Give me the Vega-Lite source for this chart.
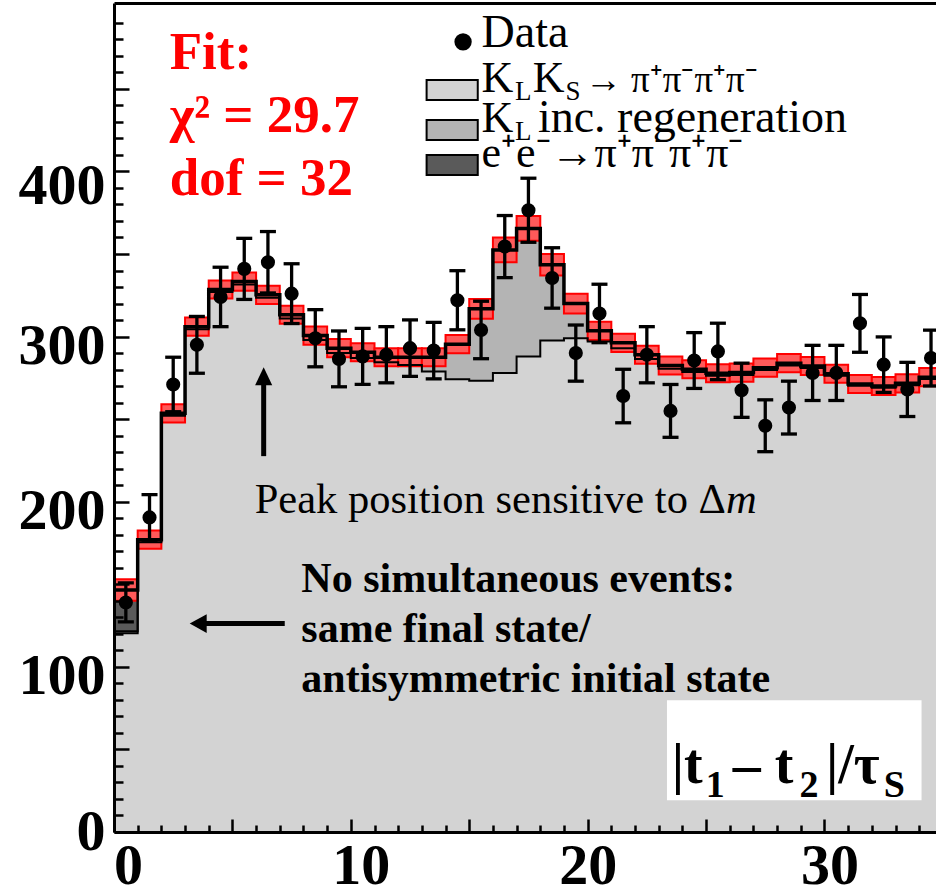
{
  "$schema": "https://vega.github.io/schema/vega-lite/v6.json",
  "width": 822,
  "height": 829,
  "autosize": {"type": "none"},
  "padding": {"left": 114, "top": 3, "right": 0, "bottom": 62},
  "background": "white",
  "config": {"view": {"stroke": null}},
  "datasets": {
    "bins": [
      {"x0":0,"x1":1,"xc":0.5,"d":139,"lo":127.2,"hi":150.8,"k":120.4,"kr":121.5,"tot":146.5,"blo":140,"bhi":153},
      {"x0":1,"x1":2,"xc":1.5,"d":190.5,"lo":176.7,"hi":204.3,"k":175.5,"kr":177,"tot":177,"blo":171.5,"bhi":182.5},
      {"x0":2,"x1":3,"xc":2.5,"d":271,"lo":254.5,"hi":287.5,"k":252,"kr":253.5,"tot":253.5,"blo":248,"bhi":259},
      {"x0":3,"x1":4,"xc":3.5,"d":295,"lo":277.8,"hi":312.2,"k":304.5,"kr":306,"tot":306,"blo":300.5,"bhi":311.5},
      {"x0":4,"x1":5,"xc":4.5,"d":324,"lo":306,"hi":342,"k":327,"kr":328.5,"tot":328.5,"blo":323,"bhi":334},
      {"x0":5,"x1":6,"xc":5.5,"d":341,"lo":322.5,"hi":359.5,"k":331.5,"kr":333.3,"tot":333.3,"blo":327.8,"bhi":338.8},
      {"x0":6,"x1":7,"xc":6.5,"d":345,"lo":326.4,"hi":363.6,"k":323.5,"kr":325.3,"tot":325.3,"blo":319.8,"bhi":330.8},
      {"x0":7,"x1":8,"xc":7.5,"d":326,"lo":307.9,"hi":344.1,"k":311,"kr":313.2,"tot":313.2,"blo":307.7,"bhi":318.7},
      {"x0":8,"x1":9,"xc":8.5,"d":299,"lo":281.7,"hi":316.3,"k":298,"kr":300.6,"tot":300.6,"blo":295.1,"bhi":306.1},
      {"x0":9,"x1":10,"xc":9.5,"d":286.5,"lo":269.6,"hi":303.4,"k":290,"kr":293,"tot":293,"blo":287.5,"bhi":298.5},
      {"x0":10,"x1":11,"xc":10.5,"d":288,"lo":271,"hi":305,"k":287,"kr":290.5,"tot":290.5,"blo":285,"bhi":296},
      {"x0":11,"x1":12,"xc":11.5,"d":289,"lo":272,"hi":306,"k":284.5,"kr":287.5,"tot":287.5,"blo":282,"bhi":293},
      {"x0":12,"x1":13,"xc":12.5,"d":293,"lo":275.9,"hi":310.1,"k":282.8,"kr":287.5,"tot":287.5,"blo":282,"bhi":293},
      {"x0":13,"x1":14,"xc":13.5,"d":291.5,"lo":274.4,"hi":308.6,"k":278.8,"kr":287.5,"tot":287.5,"blo":282,"bhi":293},
      {"x0":14,"x1":15,"xc":14.5,"d":322,"lo":304.1,"hi":339.9,"k":274.2,"kr":295.4,"tot":295.4,"blo":289.9,"bhi":300.9},
      {"x0":15,"x1":16,"xc":15.5,"d":304,"lo":286.6,"hi":321.4,"k":273.3,"kr":316.8,"tot":316.8,"blo":310.8,"bhi":322.8},
      {"x0":16,"x1":17,"xc":16.5,"d":354.5,"lo":335.7,"hi":373.3,"k":278,"kr":352.5,"tot":352.5,"blo":345,"bhi":360},
      {"x0":17,"x1":18,"xc":17.5,"d":376.5,"lo":357.1,"hi":395.9,"k":288,"kr":365.5,"tot":365.5,"blo":358,"bhi":373},
      {"x0":18,"x1":19,"xc":18.5,"d":335.5,"lo":317.2,"hi":353.8,"k":297.6,"kr":343.5,"tot":343.5,"blo":337,"bhi":350},
      {"x0":19,"x1":20,"xc":19.5,"d":290,"lo":273,"hi":307,"k":299,"kr":320,"tot":320,"blo":314,"bhi":326},
      {"x0":20,"x1":21,"xc":20.5,"d":314,"lo":296.3,"hi":331.7,"k":297,"kr":303.5,"tot":303.5,"blo":298,"bhi":309},
      {"x0":21,"x1":22,"xc":21.5,"d":264,"lo":247.8,"hi":280.2,"k":293,"kr":296.2,"tot":296.2,"blo":290.7,"bhi":301.7},
      {"x0":22,"x1":23,"xc":22.5,"d":289,"lo":272,"hi":306,"k":286.5,"kr":289,"tot":289,"blo":283.5,"bhi":294.5},
      {"x0":23,"x1":24,"xc":23.5,"d":255,"lo":239,"hi":271,"k":280.5,"kr":282.5,"tot":282.5,"blo":277,"bhi":288},
      {"x0":24,"x1":25,"xc":24.5,"d":285.5,"lo":268.6,"hi":302.4,"k":278.5,"kr":280.2,"tot":280.2,"blo":274.7,"bhi":285.7},
      {"x0":25,"x1":26,"xc":25.5,"d":291,"lo":273.9,"hi":308.1,"k":276.3,"kr":277.8,"tot":277.8,"blo":272.3,"bhi":283.3},
      {"x0":26,"x1":27,"xc":26.5,"d":267.5,"lo":251.1,"hi":283.9,"k":276.8,"kr":278.2,"tot":278.2,"blo":272.7,"bhi":283.7},
      {"x0":27,"x1":28,"xc":27.5,"d":246,"lo":230.3,"hi":261.7,"k":279.8,"kr":281.2,"tot":281.2,"blo":275.7,"bhi":286.7},
      {"x0":28,"x1":29,"xc":28.5,"d":257,"lo":241,"hi":273,"k":282.5,"kr":283.9,"tot":283.9,"blo":278.4,"bhi":289.4},
      {"x0":29,"x1":30,"xc":29.5,"d":278,"lo":261.3,"hi":294.7,"k":281,"kr":282.2,"tot":282.2,"blo":276.7,"bhi":287.7},
      {"x0":30,"x1":31,"xc":30.5,"d":278,"lo":261.3,"hi":294.7,"k":276.3,"kr":277.5,"tot":277.5,"blo":272,"bhi":283},
      {"x0":31,"x1":32,"xc":31.5,"d":308,"lo":290.5,"hi":325.5,"k":270.2,"kr":271.3,"tot":271.3,"blo":265.8,"bhi":276.8},
      {"x0":32,"x1":33,"xc":32.5,"d":283,"lo":266.2,"hi":299.8,"k":269,"kr":270.1,"tot":270.1,"blo":264.6,"bhi":275.6},
      {"x0":33,"x1":34,"xc":33.5,"d":268,"lo":251.6,"hi":284.4,"k":270.6,"kr":271.7,"tot":271.7,"blo":266.2,"bhi":277.2},
      {"x0":34,"x1":35,"xc":34.5,"d":287,"lo":270.1,"hi":303.9,"k":274.3,"kr":275.4,"tot":275.4,"blo":269.9,"bhi":280.9},
      {"x0":35,"k":274.3,"kr":275.4,"tot":275.4}
    ]
  },
  "data": {"name": "bins"},
  "resolve": {"axis": {"x": "independent", "y": "independent"}},
  "layer": [
    {
      "mark": {"type": "area", "interpolate": "step-after", "color": "#d3d3d3", "clip": true},
      "encoding": {
        "x": {"field": "x0", "type": "quantitative",
          "scale": {"domain": [0, 34.71], "nice": false, "zero": false},
          "axis": {
            "orient": "bottom", "title": null, "grid": false, "zindex": 1,
            "values": [0,1,2,3,4,5,6,7,8,9,10,11,12,13,14,15,16,17,18,19,20,21,22,23,24,25,26,27,28,29,30,31,32,33,34],
            "tickSize": {"condition": {"test": "datum.value % 5 === 0", "value": -13}, "value": -7},
            "tickWidth": 2.5, "tickColor": "black",
            "domainColor": "black", "domainWidth": 3,
            "labelExpr": "datum.value % 10 === 0 ? datum.label : ''",
            "labelFont": "Liberation Serif", "labelFontSize": 58, "labelFontWeight": "bold", "labelColor": "black",
            "labelPadding": 18, "labelOverlap": false, "labelFlush": false, "labelBound": false,
            "labelOffset": {"condition": [{"test": "datum.value === 0", "value": 14}, {"test": "datum.value === 10", "value": 10}, {"test": "datum.value === 30", "value": 5}], "value": 0}
          }},
        "y": {"field": "k", "type": "quantitative", "title": null,
          "scale": {"domain": [0, 502], "nice": false, "zero": true},
          "axis": {
            "orient": "left", "title": null, "grid": false, "zindex": 1,
            "values": [0,10,20,30,40,50,60,70,80,90,100,110,120,130,140,150,160,170,180,190,200,210,220,230,240,250,260,270,280,290,300,310,320,330,340,350,360,370,380,390,400,410,420,430,440,450,460,470,480,490],
            "tickSize": {"condition": {"test": "datum.value % 50 === 0", "value": -15}, "value": -9},
            "tickWidth": 2.5, "tickColor": "black",
            "domainColor": "black", "domainWidth": 3,
            "labelExpr": "datum.value % 100 === 0 ? datum.label : ''",
            "labelFont": "Liberation Serif", "labelFontSize": 58, "labelFontWeight": "bold", "labelColor": "black",
            "labelPadding": 24, "labelOverlap": false, "labelFlush": false, "labelBound": false,
            "labelOffset": {"condition": [{"test": "datum.value === 0", "value": 0}, {"test": "datum.value === 400", "value": 15}], "value": 10}
          }},
        "y2": {"datum": 0}
      }
    },
    {
      "mark": {"type": "area", "interpolate": "step-after", "color": "#b4b4b4", "clip": true},
      "encoding": {
        "x": {"field": "x0", "type": "quantitative",
          "axis": {"orient": "top", "title": null, "grid": false, "ticks": false, "labels": false, "domainColor": "black", "domainWidth": 3, "zindex": 1}},
        "y": {"field": "kr", "type": "quantitative", "axis": null},
        "y2": {"field": "k"}
      }
    },
    {
      "mark": {"type": "area", "interpolate": "step-after", "color": "#5a5a5a", "clip": true},
      "encoding": {
        "x": {"field": "x0", "type": "quantitative", "axis": null},
        "y": {"field": "tot", "type": "quantitative", "axis": null},
        "y2": {"field": "kr"}
      }
    },
    {
      "transform": [{"filter": "isValid(datum.blo)"}],
      "mark": {"type": "rect", "fill": "#ff5a5a", "stroke": "#ff0000", "strokeWidth": 2, "clip": true},
      "encoding": {
        "x": {"field": "x0", "type": "quantitative", "axis": null},
        "x2": {"field": "x1"},
        "y": {"field": "blo", "type": "quantitative", "axis": null},
        "y2": {"field": "bhi"}
      }
    },
    {
      "mark": {"type": "line", "interpolate": "step-after", "color": "black", "strokeWidth": 2, "clip": true},
      "encoding": {
        "x": {"field": "x0", "type": "quantitative", "axis": null},
        "y": {"field": "k", "type": "quantitative", "axis": null}
      }
    },
    {
      "mark": {"type": "line", "interpolate": "step-after", "color": "black", "strokeWidth": 2, "clip": true},
      "encoding": {
        "x": {"field": "x0", "type": "quantitative", "axis": null},
        "y": {"field": "kr", "type": "quantitative", "axis": null}
      }
    },
    {
      "mark": {"type": "line", "interpolate": "step-after", "color": "black", "strokeWidth": 3.5, "clip": true},
      "encoding": {
        "x": {"field": "x0", "type": "quantitative", "axis": null},
        "y": {"field": "tot", "type": "quantitative", "axis": null}
      }
    },
    {
      "transform": [{"filter": "isValid(datum.d)"}],
      "mark": {"type": "rule", "color": "black", "strokeWidth": 3.3, "clip": true},
      "encoding": {
        "x": {"field": "xc", "type": "quantitative", "axis": null},
        "y": {"field": "lo", "type": "quantitative", "axis": null},
        "y2": {"field": "hi"}
      }
    },
    {
      "transform": [{"filter": "isValid(datum.d)"}],
      "mark": {"type": "tick", "orient": "horizontal", "color": "black", "size": 16, "thickness": 3.3, "opacity": 1, "clip": true},
      "encoding": {
        "x": {"field": "xc", "type": "quantitative", "axis": null},
        "y": {"field": "lo", "type": "quantitative", "axis": null}
      }
    },
    {
      "transform": [{"filter": "isValid(datum.d)"}],
      "mark": {"type": "tick", "orient": "horizontal", "color": "black", "size": 16, "thickness": 3.3, "opacity": 1, "clip": true},
      "encoding": {
        "x": {"field": "xc", "type": "quantitative", "axis": null},
        "y": {"field": "hi", "type": "quantitative", "axis": null}
      }
    },
    {
      "transform": [{"filter": "isValid(datum.d)"}],
      "mark": {"type": "point", "filled": true, "color": "black", "size": 200, "opacity": 1, "clip": true},
      "encoding": {
        "x": {"field": "xc", "type": "quantitative", "axis": null},
        "y": {"field": "d", "type": "quantitative", "axis": null}
      }
    },
    {
      "data": {"values": [{}]},
      "mark": {"type": "rule", "color": "black", "strokeWidth": 5},
      "encoding": {
        "x": {"datum": 6.32, "type": "quantitative", "axis": null},
        "y": {"datum": 227.6, "type": "quantitative", "axis": null},
        "y2": {"datum": 276}
      }
    },
    {
      "data": {"values": [{}]},
      "mark": {"type": "point", "shape": "M0,-1L-0.95,1L0.95,1Z", "filled": true, "color": "black", "size": 324, "opacity": 1},
      "encoding": {
        "x": {"datum": 6.32, "type": "quantitative", "axis": null},
        "y": {"datum": 276, "type": "quantitative", "axis": null}
      }
    },
    {
      "data": {"values": [{}]},
      "mark": {"type": "rule", "color": "black", "strokeWidth": 5},
      "encoding": {
        "x": {"datum": 3.556, "type": "quantitative", "axis": null},
        "x2": {"datum": 7.21},
        "y": {"datum": 126.2, "type": "quantitative", "axis": null}
      }
    },
    {
      "data": {"values": [{}]},
      "mark": {"type": "point", "shape": "M-1,0L1,-1.1L1,1.1Z", "filled": true, "color": "black", "size": 289, "opacity": 1},
      "encoding": {
        "x": {"datum": 3.556, "type": "quantitative", "axis": null},
        "y": {"datum": 126.2, "type": "quantitative", "axis": null}
      }
    },
    {
      "data": {"values": [{}]},
      "mark": {"type": "text", "text": ["Fit:", "χ² = 29.7", "dof = 32"], "lineHeight": 63, "font": "Liberation Serif", "fontSize": 53, "fontWeight": "bold", "color": "#ff0000", "align": "left", "baseline": "alphabetic"},
      "encoding": {
        "x": {"datum": 2.35, "type": "quantitative", "axis": null},
        "y": {"datum": 462, "type": "quantitative", "axis": null}
      }
    },
    {
      "data": {"values": [{}]},
      "mark": {"type": "text", "text": "Peak position sensitive to Δ", "font": "Liberation Serif", "fontSize": 42.5, "color": "black", "align": "left", "baseline": "alphabetic"},
      "encoding": {
        "x": {"datum": 5.94, "type": "quantitative", "axis": null},
        "y": {"datum": 193, "type": "quantitative", "axis": null}
      }
    },
    {
      "data": {"values": [{}]},
      "mark": {"type": "text", "text": "m", "font": "Liberation Serif", "fontSize": 42.5, "fontStyle": "italic", "color": "black", "align": "right", "baseline": "alphabetic"},
      "encoding": {
        "x": {"datum": 27.14, "type": "quantitative", "axis": null},
        "y": {"datum": 193, "type": "quantitative", "axis": null}
      }
    },
    {
      "data": {"values": [{}]},
      "mark": {"type": "text", "text": ["No simultaneous events:", "same final state/", "antisymmetric initial state"], "lineHeight": 50, "font": "Liberation Serif", "fontSize": 42, "fontWeight": "bold", "color": "black", "align": "left", "baseline": "alphabetic"},
      "encoding": {
        "x": {"datum": 7.91, "type": "quantitative", "axis": null},
        "y": {"datum": 145.2, "type": "quantitative", "axis": null}
      }
    },
    {
      "data": {"values": [{}]},
      "mark": {"type": "point", "shape": "circle", "filled": true, "color": "black", "size": 300, "opacity": 1},
      "encoding": {
        "x": {"datum": 14.74, "type": "quantitative", "axis": null},
        "y": {"datum": 478.5, "type": "quantitative", "axis": null}
      }
    },
    {
      "data": {"values": [{}]},
      "mark": {"type": "text", "text": "Data", "font": "Liberation Serif", "fontSize": 46, "color": "black", "align": "left", "baseline": "alphabetic"},
      "encoding": {
        "x": {"datum": 15.52, "type": "quantitative", "axis": null},
        "y": {"datum": 475.5, "type": "quantitative", "axis": null}
      }
    },
    {
      "data": {"values": [{}]},
      "mark": {"type": "rect", "fill": "#d3d3d3", "stroke": "black", "strokeWidth": 2},
      "encoding": {
        "x": {"datum": 13.2, "type": "quantitative", "axis": null},
        "x2": {"datum": 15.36},
        "y": {"datum": 443.2, "type": "quantitative", "axis": null},
        "y2": {"datum": 455.3}
      }
    },
    {
      "data": {"values": [{}]},
      "mark": {"type": "rect", "fill": "#b4b4b4", "stroke": "black", "strokeWidth": 2},
      "encoding": {
        "x": {"datum": 13.2, "type": "quantitative", "axis": null},
        "x2": {"datum": 15.36},
        "y": {"datum": 419.0, "type": "quantitative", "axis": null},
        "y2": {"datum": 431.1}
      }
    },
    {
      "data": {"values": [{}]},
      "mark": {"type": "rect", "fill": "#5a5a5a", "stroke": "black", "strokeWidth": 2},
      "encoding": {
        "x": {"datum": 13.2, "type": "quantitative", "axis": null},
        "x2": {"datum": 15.36},
        "y": {"datum": 397.8, "type": "quantitative", "axis": null},
        "y2": {"datum": 409.9}
      }
    },
    {
      "data": {"values": [{}]},
      "mark": {"type": "text", "text": "K", "font": "Liberation Serif", "fontSize": 44, "color": "black", "align": "left", "baseline": "alphabetic"},
      "encoding": {"x": {"datum": 15.52, "type": "quantitative", "axis": null}, "y": {"datum": 448.2, "type": "quantitative", "axis": null}}
    },
    {
      "data": {"values": [{}]},
      "mark": {"type": "text", "text": "L", "font": "Liberation Serif", "fontSize": 27, "color": "black", "align": "left", "baseline": "alphabetic"},
      "encoding": {"x": {"datum": 16.93, "type": "quantitative", "axis": null}, "y": {"datum": 443.5, "type": "quantitative", "axis": null}}
    },
    {
      "data": {"values": [{}]},
      "mark": {"type": "text", "text": "K", "font": "Liberation Serif", "fontSize": 44, "color": "black", "align": "left", "baseline": "alphabetic"},
      "encoding": {"x": {"datum": 17.68, "type": "quantitative", "axis": null}, "y": {"datum": 448.2, "type": "quantitative", "axis": null}}
    },
    {
      "data": {"values": [{}]},
      "mark": {"type": "text", "text": "S", "font": "Liberation Serif", "fontSize": 27, "color": "black", "align": "left", "baseline": "alphabetic"},
      "encoding": {"x": {"datum": 19.07, "type": "quantitative", "axis": null}, "y": {"datum": 443.5, "type": "quantitative", "axis": null}}
    },
    {
      "data": {"values": [{}]},
      "mark": {"type": "text", "text": "→ π⁺π⁻π⁺π⁻", "font": "Liberation Serif", "fontSize": 37, "color": "black", "align": "left", "baseline": "alphabetic"},
      "encoding": {"x": {"datum": 19.88, "type": "quantitative", "axis": null}, "y": {"datum": 448.2, "type": "quantitative", "axis": null}}
    },
    {
      "data": {"values": [{}]},
      "mark": {"type": "text", "text": "K", "font": "Liberation Serif", "fontSize": 44, "color": "black", "align": "left", "baseline": "alphabetic"},
      "encoding": {"x": {"datum": 15.52, "type": "quantitative", "axis": null}, "y": {"datum": 424.0, "type": "quantitative", "axis": null}}
    },
    {
      "data": {"values": [{}]},
      "mark": {"type": "text", "text": "L", "font": "Liberation Serif", "fontSize": 27, "color": "black", "align": "left", "baseline": "alphabetic"},
      "encoding": {"x": {"datum": 16.93, "type": "quantitative", "axis": null}, "y": {"datum": 419.3, "type": "quantitative", "axis": null}}
    },
    {
      "data": {"values": [{}]},
      "mark": {"type": "text", "text": "inc. regeneration", "font": "Liberation Serif", "fontSize": 46, "color": "black", "align": "left", "baseline": "alphabetic"},
      "encoding": {"x": {"datum": 17.9, "type": "quantitative", "axis": null}, "y": {"datum": 424.0, "type": "quantitative", "axis": null}}
    },
    {
      "data": {"values": [{}]},
      "mark": {"type": "text", "text": "e⁺e⁻→π⁺π⁻π⁺π⁻", "font": "Liberation Serif", "fontSize": 44, "color": "black", "align": "left", "baseline": "alphabetic"},
      "encoding": {"x": {"datum": 15.52, "type": "quantitative", "axis": null}, "y": {"datum": 402.8, "type": "quantitative", "axis": null}}
    },
    {
      "data": {"values": [{}]},
      "mark": {"type": "rect", "fill": "white"},
      "encoding": {
        "x": {"datum": 23.35, "type": "quantitative", "axis": null},
        "x2": {"datum": 34.1},
        "y": {"datum": 19.2, "type": "quantitative", "axis": null},
        "y2": {"datum": 79.8}
      }
    },
    {
      "data": {"values": [{}]},
      "mark": {"type": "text", "text": "|t", "font": "Liberation Serif", "fontSize": 56, "fontWeight": "bold", "color": "black", "align": "left", "baseline": "alphabetic"},
      "encoding": {"x": {"datum": 23.55, "type": "quantitative", "axis": null}, "y": {"datum": 29.5, "type": "quantitative", "axis": null}}
    },
    {
      "data": {"values": [{}]},
      "mark": {"type": "text", "text": "1", "font": "Liberation Serif", "fontSize": 38, "fontWeight": "bold", "color": "black", "align": "left", "baseline": "alphabetic"},
      "encoding": {"x": {"datum": 24.99, "type": "quantitative", "axis": null}, "y": {"datum": 21.0, "type": "quantitative", "axis": null}}
    },
    {
      "data": {"values": [{}]},
      "mark": {"type": "text", "text": "– t", "font": "Liberation Serif", "fontSize": 56, "fontWeight": "bold", "color": "black", "align": "left", "baseline": "alphabetic"},
      "encoding": {"x": {"datum": 26.13, "type": "quantitative", "axis": null}, "y": {"datum": 29.5, "type": "quantitative", "axis": null}}
    },
    {
      "data": {"values": [{}]},
      "mark": {"type": "text", "text": "2", "font": "Liberation Serif", "fontSize": 38, "fontWeight": "bold", "color": "black", "align": "left", "baseline": "alphabetic"},
      "encoding": {"x": {"datum": 28.95, "type": "quantitative", "axis": null}, "y": {"datum": 21.0, "type": "quantitative", "axis": null}}
    },
    {
      "data": {"values": [{}]},
      "mark": {"type": "text", "text": "|/τ", "font": "Liberation Serif", "fontSize": 56, "fontWeight": "bold", "color": "black", "align": "left", "baseline": "alphabetic"},
      "encoding": {"x": {"datum": 30.06, "type": "quantitative", "axis": null}, "y": {"datum": 29.5, "type": "quantitative", "axis": null}}
    },
    {
      "data": {"values": [{}]},
      "mark": {"type": "text", "text": "S", "font": "Liberation Serif", "fontSize": 38, "fontWeight": "bold", "color": "black", "align": "left", "baseline": "alphabetic"},
      "encoding": {"x": {"datum": 32.5, "type": "quantitative", "axis": null}, "y": {"datum": 21.0, "type": "quantitative", "axis": null}}
    }
  ]
}
